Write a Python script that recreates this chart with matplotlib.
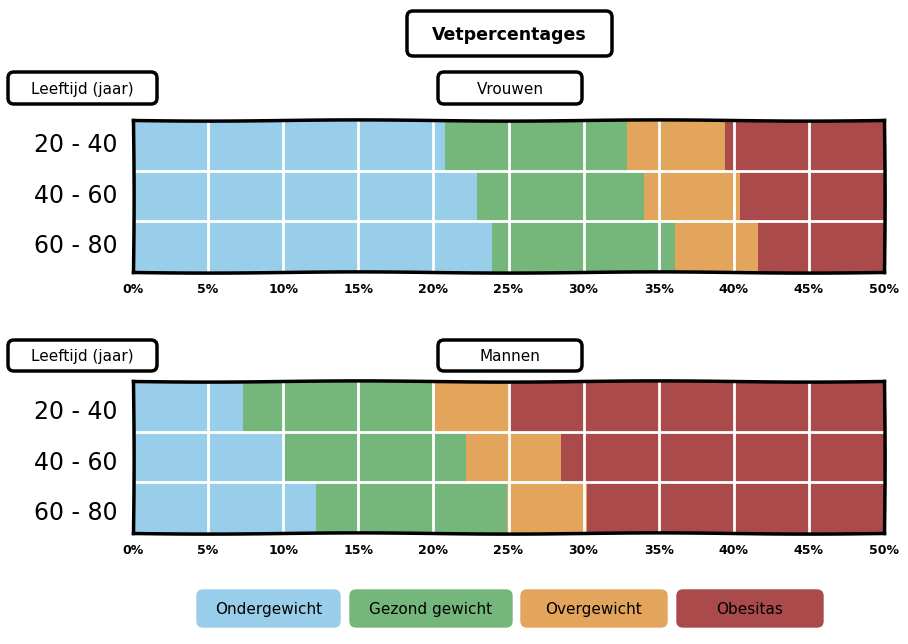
import matplotlib
matplotlib.use("Agg")
import matplotlib.pyplot as plt
import matplotlib.patches as mpatches
import matplotlib.transforms as mtransforms
import numpy as np

# Data, percentages per age group
age_groups = ["20 - 40", "40 - 60", "60 - 80"]
categories = ["Ondergewicht", "Gezond gewicht", "Overgewicht", "Obesitas"]
colors = ["#98CEEA", "#75B77A", "#E3A55B", "#AA4A4A"]

women_onder = [20.8, 22.9, 23.9]
women_gezond = [12.1, 11.1, 12.2]
women_over = [6.5, 6.4, 5.5]
women_obees = [60.6, 59.6, 58.4]

men_onder = [7.3, 9.9, 12.2]
men_gezond = [12.7, 12.3, 12.7]
men_over = [5.1, 6.3, 5.3]
men_obees = [74.9, 71.5, 69.8]

x_ticks = [0, 5, 10, 15, 20, 25, 30, 35, 40, 45, 50]
x_labels = [f"{t}%" for t in x_ticks]

W, H = 908, 644
fig = plt.figure(figsize=(W / 100, H / 100), dpi=100)


def draw_panel(rect, series, label_shift):
    ax = fig.add_axes(rect)
    y = np.arange(len(age_groups))
    left = np.zeros(len(age_groups))
    for vals, col in zip(series, colors):
        ax.barh(y, vals, left=left, height=1.0, color=col, edgecolor="none", zorder=1)
        left += np.array(vals)
    ax.set_xlim(0, 50)
    ax.set_ylim(2.5, -0.5)
    # white grid on top of the bars
    for t in x_ticks[1:-1]:
        ax.axvline(t, color="white", lw=2, zorder=3)
    for yy in [0.5, 1.5]:
        ax.axhline(yy, color="white", lw=2, zorder=3)
    ax.set_yticks(y)
    ax.set_yticklabels(age_groups, fontsize=17)
    ax.set_xticks(x_ticks)
    ax.set_xticklabels(x_labels, fontsize=9, fontweight="bold")
    ax.tick_params(length=0, pad=8)
    ax.tick_params(axis="y", pad=11)
    # small vertical nudge of the age labels, as in the original
    offset = mtransforms.ScaledTranslation(0, label_shift, fig.dpi_scale_trans)
    for lab in ax.get_yticklabels():
        lab.set_transform(lab.get_transform() + offset)
    for s in ax.spines.values():
        s.set_linewidth(2.5)
        s.set_color("black")
        s.set_zorder(5)
        s.set_sketch_params(0.6, 300, 1)
    return ax


left_f = 133 / W
width_f = 751 / W
draw_panel([left_f, 1 - 272 / H, width_f, 152 / H],
           [women_onder, women_gezond, women_over, women_obees], 0.03)
draw_panel([left_f, 1 - 533 / H, width_f, 152 / H],
           [men_onder, men_gezond, men_over, men_obees], -0.03)

# overlay in pixel coordinates for the labelled boxes
ov = fig.add_axes([0, 0, 1, 1], zorder=10)
ov.set_xlim(0, W)
ov.set_ylim(H, 0)
ov.axis("off")
ov.patch.set_alpha(0)


def box(x0, y0, x1, y1, text, fs=11, bold=False, face="white", edge="black", lw=2.5):
    p = mpatches.FancyBboxPatch((x0, y0), x1 - x0, y1 - y0,
                                boxstyle="round,pad=0,rounding_size=6",
                                facecolor=face, edgecolor=edge, linewidth=lw)
    ov.add_patch(p)
    ov.text((x0 + x1) / 2, (y0 + y1) / 2 + 1, text, ha="center", va="center",
            fontsize=fs, fontweight="bold" if bold else "normal", color="black")


box(407, 11, 612, 56, "Vetpercentages", fs=12.5, bold=True)
box(8, 72, 157, 104, "Leeftijd (jaar)", fs=11)
box(438, 72, 582, 104, "Vrouwen", fs=11)
box(8, 340, 157, 371, "Leeftijd (jaar)", fs=11)
box(438, 340, 582, 371, "Mannen", fs=11)

legend_pos = [(197, 340), (350, 512), (521, 667), (677, 823)]
for (x0, x1), cat, col in zip(legend_pos, categories, colors):
    box(x0, 590, x1, 627, cat, fs=11, face=col, edge=col, lw=1)

fig.savefig("out.png", dpi=100)
